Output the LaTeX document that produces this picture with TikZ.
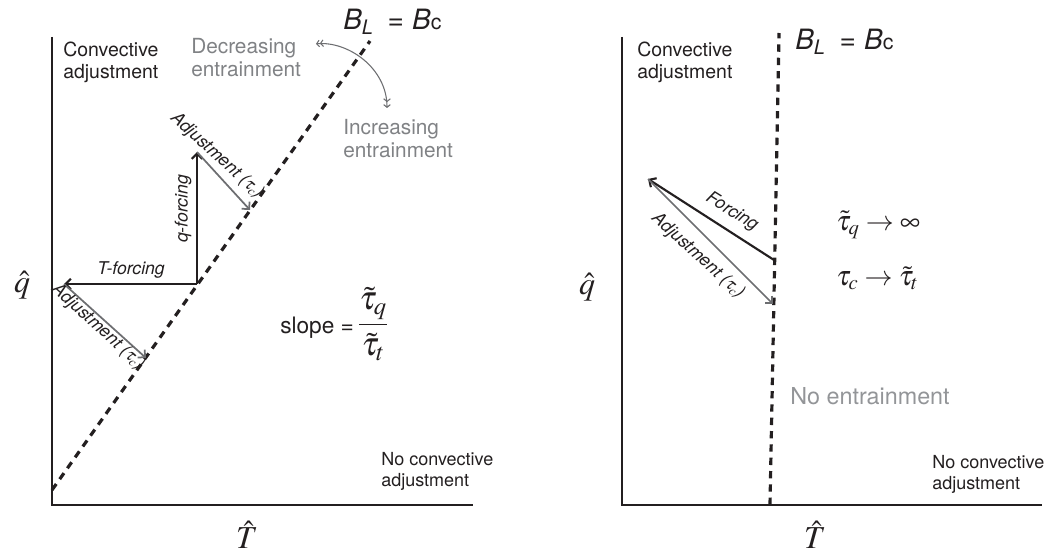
\documentclass[tikz,border=0pt]{standalone}
\usepackage{mathptmx}
\usepackage{fontspec}
\setmainfont{TeX Gyre Heros}
\usetikzlibrary{arrows.meta}
\definecolor{ink}{HTML}{231F20}
\definecolor{adjgray}{HTML}{6D6E71}
\definecolor{txtgray}{HTML}{808285}
\definecolor{paleink}{HTML}{939598}
\begin{document}
\begin{tikzpicture}[x=0.75pt,y=-0.75pt,
  axis/.style={draw=ink,line width=2pt,line join=miter},
  bound/.style={draw=ink,line width=2.4pt,dash pattern=on 5.5pt off 4.5pt},
  force/.style={draw=ink,line width=1.6pt,-{Straight Barb[length=4pt,width=8pt]}},
  adjust/.style={draw=adjgray,line width=1.3pt,-{Straight Barb[length=4pt,width=8pt]}},
  curv/.style={draw=adjgray,line width=0.8pt,
    {Straight Barb[length=2pt,width=5pt,sep=1.5pt] Straight Barb[length=2pt,width=5pt]}-{Straight Barb[length=2pt,width=5pt,sep=1.5pt] Straight Barb[length=2pt,width=5pt]}},
  lbl/.style={font=\fontsize{13.2}{15}\selectfont\itshape,text=ink,inner sep=0pt},
  region/.style={font=\fontsize{14.6}{16.5}\selectfont,text=ink,align=left,anchor=north west,inner sep=0pt},
  nca/.style={font=\fontsize{13.5}{15.8}\selectfont,text=ink,align=left,anchor=north west,inner sep=0pt},
  entr/.style={font=\fontsize{15.6}{17.3}\selectfont,text=txtgray,align=left,anchor=north west,inner sep=0pt},
  noentr/.style={font=\fontsize{17.5}{20}\selectfont,text=paleink,anchor=north west,inner sep=0pt},
  blc/.style={font=\fontsize{21}{24}\selectfont,text=ink,anchor=base west,inner sep=0pt},
  mth/.style={font=\fontsize{21}{24}\selectfont,text=ink,anchor=west,inner sep=0pt},
  axl/.style={font=\fontsize{24}{28}\selectfont,text=ink,inner sep=0pt}
]
\useasboundingbox (0,0) rectangle (1062,552);

% ---------- left panel ----------
\coordinate (LY) at (52,37);
\coordinate (LO) at (52,505);
\coordinate (LX) at (473,505);
\coordinate (D0) at (52,490);
\coordinate (D1) at (370,41);
\coordinate (P0) at (197,284);
\coordinate (P1) at (197,152);
\coordinate (P2) at (250,210);
\coordinate (P3) at (64,284);
\coordinate (P4) at (146,358);
\coordinate (cA) at (314,44);
\coordinate (cB) at (387,108);

\draw[axis] (LY) -- (LO) -- (LX);
\draw[bound] (D0) -- (D1);
\draw[force] (P0) -- (P1);
\draw[adjust] (P1) -- (P2);
\draw[force] (P0) -- (P3);
\draw[adjust] (P3) -- (P4);
\draw[curv] (cA) .. controls (348,41) and (387,68) .. (cB);

\node[lbl,rotate=-42] (adjA) at (217,156) {Adjustment ($\tau_c$)};
\node[lbl,rotate=-42] (adjB) at (98,327) {Adjustment ($\tau_c$)};
\node[lbl] (tforce) at (131,270) {T-forcing};
\node[lbl,rotate=90] (qforce) at (183,209) {q-forcing};

\node[region] (lconv) at (63,42) {Convective\\adjustment};
\node[nca] (lnca) at (381,452) {No convective\\adjustment};
\node[entr] (dec) at (191,38) {Decreasing\\entrainment};
\node[entr] (inc) at (343,119) {Increasing\\entrainment};
\node[blc] (bl1) at (343,30) {{\itshape B}\raisebox{-3.5pt}{\fontsize{15}{15}\selectfont\itshape L}\hspace{11pt}=\hspace{6pt}{\itshape B}{\fontsize{16}{16}\selectfont c}};
\node[anchor=base west,inner sep=0pt,text=ink,font=\fontsize{17}{20}\selectfont] (slope) at (280,333)
  {slope =\,{\fontsize{25}{30}\selectfont$\displaystyle\frac{\tilde{\tau}_{q}}{\tilde{\tau}_{t}}$}};
\node[axl] (lq) at (22,285) {$\hat{q}$};
\node[axl] (lT) at (247,535) {$\hat{T}$};

% ---------- right panel ----------
\coordinate (RY) at (622,37);
\coordinate (RO) at (622,505);
\coordinate (RX) at (1042,505);
\coordinate (E0) at (770,505);
\coordinate (E1) at (779,33);
\coordinate (F0) at (774,260);
\coordinate (F1) at (648,179);
\coordinate (F2) at (773,304);

\draw[axis] (RY) -- (RO) -- (RX);
\draw[bound] (E0) -- (E1);
\draw[force] (F0) -- (F1);
\draw[adjust] (F1) -- (F2);

\node[lbl,rotate=-32] (forc) at (732,212) {Forcing};
\node[lbl,rotate=-42] (adjC) at (698,256) {Adjustment ($\tau_c$)};

\node[region] (rconv) at (637,42) {Convective\\adjustment};
\node[nca] (rnca) at (932,455) {No convective\\adjustment};
\node[noentr] (noe) at (790,387) {No entrainment};
\node[blc] (bl2) at (795,50) {{\itshape B}\raisebox{-3.5pt}{\fontsize{15}{15}\selectfont\itshape L}\hspace{11pt}=\hspace{6pt}{\itshape B}{\fontsize{16}{16}\selectfont c}};
\node[mth] (tq) at (836,225) {$\tilde{\tau}_{q} \rightarrow \infty$};
\node[mth] (tc) at (836,278) {$\tau_{c} \rightarrow \tilde{\tau}_{t}$};
\node[axl] (rq) at (587,287) {$\hat{q}$};
\node[axl] (rT) at (815,535) {$\hat{T}$};
\end{tikzpicture}
\end{document}
